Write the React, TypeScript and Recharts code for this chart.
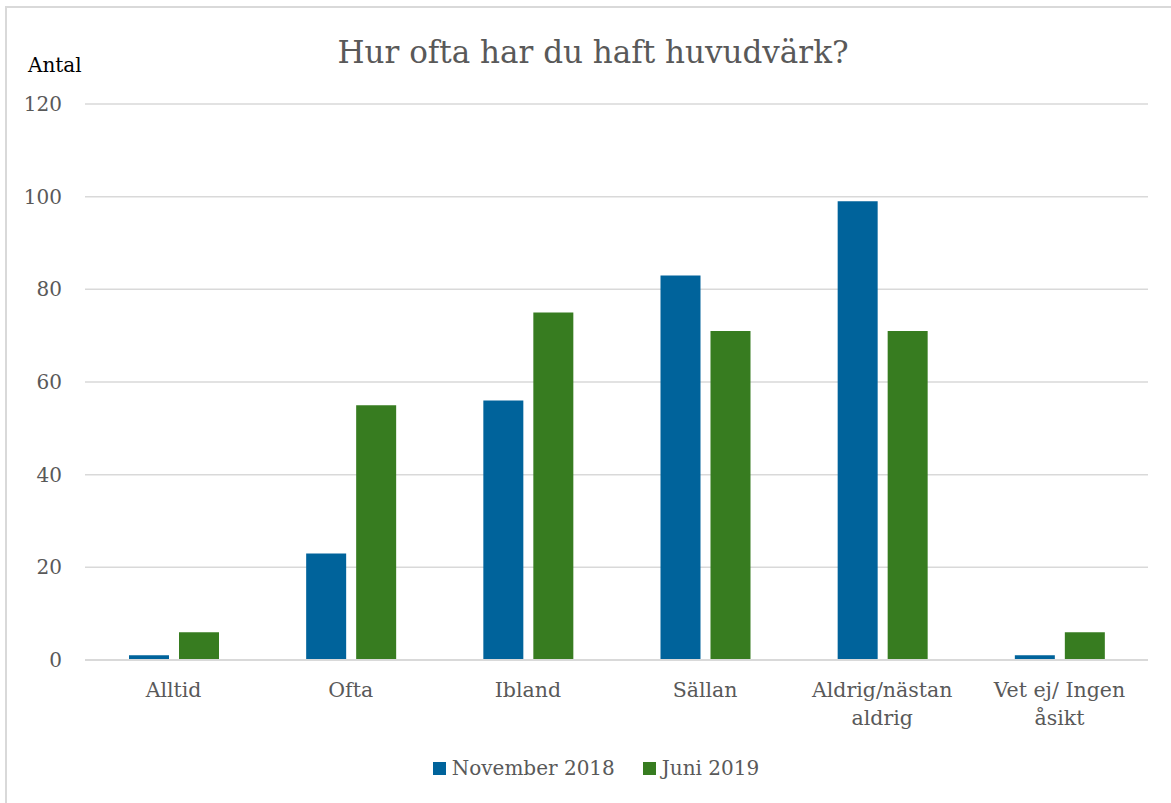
import React from "react";
import { BarChart, Bar, XAxis, YAxis, CartesianGrid, Legend } from "recharts";

const categories = ["Alltid", "Ofta", "Ibland", "Sällan", "Aldrig/nästan aldrig", "Vet ej/ Ingen åsikt"];
const november2018 = [1, 23, 56, 83, 99, 1];
const juni2019 = [6, 55, 75, 71, 71, 6];
const yTicks = [0, 20, 40, 60, 80, 100, 120];

// line breaks for the two long category labels
const labelLines: Record<string, string[]> = {
    "Aldrig/nästan aldrig": ["Aldrig/nästan", "aldrig"],
    "Vet ej/ Ingen åsikt": ["Vet ej/ Ingen", "åsikt"],
};

const FONT = "'DejaVu Serif', serif";
const GREY = "#595959";
const BLUE = "#00639b";
const GREEN = "#377c20";

const data = categories.map((c, i) => ({
    name: c,
    nov: november2018[i],
    jun: juni2019[i],
}));

const CategoryTick = (props: any) => {
    const { x, y, payload } = props;
    const lines = labelLines[payload.value] || [payload.value];
    return (
        <text x={x} y={y} textAnchor="middle" fill={GREY} fontSize={20.5} fontFamily={FONT}>
            {lines.map((l, i) => (
                <tspan key={i} x={x} dy={i === 0 ? 37 : 28}>{l}</tspan>
            ))}
        </text>
    );
};

const LegendContent = () => (
    <div style={{ display: "flex", justifyContent: "center", paddingLeft: 21, fontFamily: FONT, fontSize: 20, color: GREY }}>
        {[
            { label: "November 2018", color: BLUE },
            { label: "Juni 2019", color: GREEN },
        ].map((item, i) => (
            <div key={i} style={{ display: "flex", alignItems: "center", marginLeft: i === 0 ? 0 : 28 }}>
                <span style={{ display: "inline-block", width: 13, height: 13, background: item.color, marginRight: 6 }} />
                <span>{item.label}</span>
            </div>
        ))}
    </div>
);

export default function App() {
    return (
        <div style={{ position: "absolute", left: 0, top: 0, width: 1171, height: 803, background: "#fff", overflow: "hidden" }}>
            <div style={{ position: "absolute", left: 5, top: 6, width: 1200, height: 900, borderTop: "2px solid #d9d9d9", borderLeft: "2px solid #d9d9d9" }} />
            <div style={{ position: "absolute", left: 0, top: 29, width: 1186, textAlign: "center", fontFamily: FONT, fontSize: 31, lineHeight: "46px", color: GREY }}>
                Hur ofta har du haft huvudvärk?
            </div>
            <div style={{ position: "absolute", left: 28, top: 52, fontFamily: FONT, fontSize: 20, lineHeight: "26px", color: "#000" }}>
                Antal
            </div>
            <BarChart
                width={1171}
                height={803}
                data={data}
                margin={{ top: 104, right: 23, left: 0, bottom: 0 }}
                barSize={40}
                barGap={10}
            >
                <CartesianGrid vertical={false} stroke="#d9d9d9" strokeWidth={1.5} />
                <XAxis
                    dataKey="name"
                    height={143}
                    axisLine={{ stroke: "#d9d9d9", strokeWidth: 2 }}
                    tickLine={false}
                    tickSize={0}
                    tickMargin={0}
                    interval={0}
                    tick={<CategoryTick />}
                />
                <YAxis
                    width={85}
                    domain={[0, 120]}
                    ticks={yTicks}
                    axisLine={false}
                    tickLine={false}
                    tickSize={0}
                    tickMargin={23}
                    tick={{ fill: GREY, fontSize: 20, fontFamily: FONT }}
                />
                <Legend
                    layout="horizontal"
                    verticalAlign="middle"
                    align="center"
                    content={<LegendContent />}
                    wrapperStyle={{ top: 756, left: 0, width: 1171 }}
                />
                <Bar dataKey="nov" name="November 2018" fill={BLUE} isAnimationActive={false} />
                <Bar dataKey="jun" name="Juni 2019" fill={GREEN} isAnimationActive={false} />
            </BarChart>
        </div>
    );
}
